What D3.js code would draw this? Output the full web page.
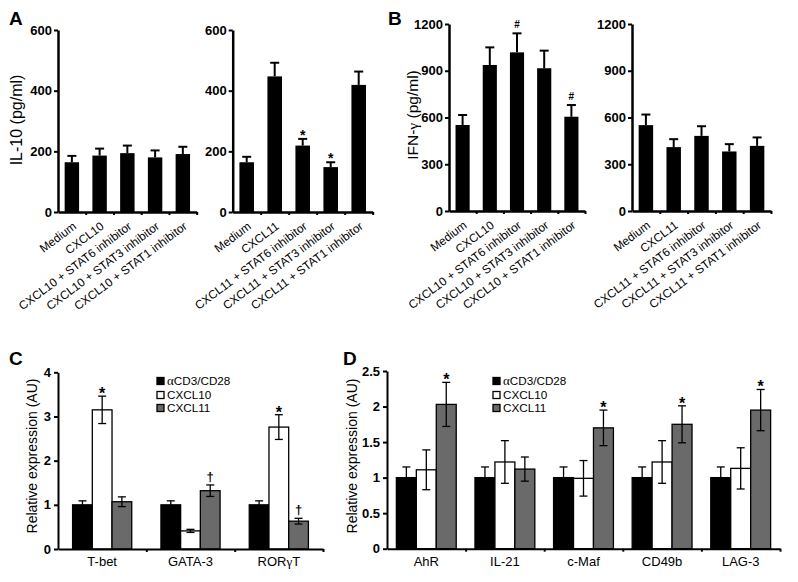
<!DOCTYPE html>
<html><head><meta charset="utf-8">
<script src="https://cdn.jsdelivr.net/npm/d3@7/dist/d3.min.js"></script>
<style>
body{margin:0;background:#fff;}
svg{font-family:Arial,"Liberation Sans",Helvetica,sans-serif;}
</style></head>
<body><svg id="chart" width="798" height="582"></svg>
<script>
// ---------- DATA ----------
const catsCxcl10 = ["Medium","CXCL10","CXCL10 + STAT6 inhibitor","CXCL10 + STAT3 inhibitor","CXCL10 + STAT1 inhibitor"];
const catsCxcl11 = ["Medium","CXCL11","CXCL11 + STAT6 inhibitor","CXCL11 + STAT3 inhibitor","CXCL11 + STAT1 inhibitor"];
const il10Cxcl10 = [164,186,194,180,191];
const il10Cxcl10Err = [21,23,25,23,24];
const il10Cxcl10Marks = ["","","","",""];
const il10Cxcl11 = [164,447,219,148,419];
const il10Cxcl11Err = [18,45,22,16,44];
const il10Cxcl11Marks = ["","","*","*",""];
const ifnCxcl10 = [552,937,1018,916,605];
const ifnCxcl10Err = [64,113,122,113,75];
const ifnCxcl10Marks = ["","","#","","#"];
const ifnCxcl11 = [551,410,482,382,418];
const ifnCxcl11Err = [68,51,62,47,54];
const ifnCxcl11Marks = ["","","","",""];
const il10Ticks = [0,200,400,600];
const ifnTicks = [0,300,600,900,1200];

const seriesNames = ["αCD3/CD28","CXCL10","CXCL11"];
const cGenes = ["T-bet","GATA-3","RORγT"];
const cAcd3 = [1.0,1.0,1.0];
const cAcd3Err = [0.09,0.09,0.09];
const cCxcl10 = [3.15,0.41,2.76];
const cCxcl10Err = [0.31,0.035,0.28];
const cCxcl10Marks = ["*","","*"];
const cCxcl11 = [1.07,1.32,0.63];
const cCxcl11Err = [0.11,0.13,0.065];
const cCxcl11Marks = ["","†","†"];
const cTicks = [0,1,2,3,4];

const dGenes = ["AhR","IL-21","c-Maf","CD49b","LAG-3"];
const dAcd3 = [1.0,1.0,1.0,1.0,1.0];
const dAcd3Err = [0.15,0.15,0.15,0.15,0.15];
const dCxcl10 = [1.11,1.22,0.99,1.22,1.13];
const dCxcl10Err = [0.28,0.30,0.25,0.30,0.29];
const dCxcl10Marks = ["","","","",""];
const dCxcl11 = [2.03,1.12,1.70,1.75,1.95];
const dCxcl11Err = [0.31,0.17,0.25,0.26,0.29];
const dCxcl11Marks = ["*","","*","*","*"];
const dTicks = [0,0.5,1,1.5,2,2.5];

// ---------- DRAW ----------
const svg = d3.select("#chart");
const GRAY = "#6a6a6a";
const SERIF = "'Liberation Serif','Times New Roman',serif";

function panelLetter(t,x,y){
  svg.append("text").attr("x",x).attr("y",y).attr("font-size",19).attr("font-weight","bold").text(t);
}

function yTitle(parts,x,y,size){
  const t = svg.append("text").attr("transform",`translate(${x},${y}) rotate(-90)`)
    .attr("text-anchor","middle").attr("font-size",size);
  parts.forEach(p=>{
    const s = t.append("tspan").text(p.t);
    if(p.serif) s.attr("font-family",SERIF);
  });
}

function simplePanel(cats, vals, errs, marks, ticks, maxV, x0, x1, yTop, yBot, markSize){
  const g = svg.append("g");
  const x = d3.scaleBand().domain(cats).range([x0,x1]).paddingInner(0.48).paddingOuter(0.24);
  const y = d3.scaleLinear().domain([0,maxV]).range([yBot,yTop]);
  const xl = d3.scaleLinear().domain([0,cats.length]).range([x0,x1]);
  g.selectAll("rect.bar").data(vals).join("rect").attr("class","bar")
    .attr("x",(d,i)=>x(cats[i])).attr("width",x.bandwidth())
    .attr("y",d=>y(d)).attr("height",d=>y(0)-y(d)).attr("fill","#000");
  vals.forEach((v,i)=>{
    const cx = x(cats[i])+x.bandwidth()/2;
    g.append("line").attr("x1",cx).attr("x2",cx).attr("y1",y(v)).attr("y2",y(v+errs[i]))
      .attr("stroke","#000").attr("stroke-width",2);
    g.append("line").attr("x1",cx-4.5).attr("x2",cx+4.5).attr("y1",y(v+errs[i])).attr("y2",y(v+errs[i]))
      .attr("stroke","#000").attr("stroke-width",2);
    if(marks[i]){
      g.append("text").attr("x",cx).attr("y",y(v+errs[i]) - (marks[i]==="#"?5:-1))
        .attr("text-anchor","middle").attr("font-weight","bold")
        .attr("font-size",marks[i]==="#"?10:markSize).text(marks[i]);
    }
  });
  const ya = g.append("g").attr("transform",`translate(${x0},0)`)
    .call(d3.axisLeft(y).tickValues(ticks).tickSize(4).tickPadding(2).tickSizeOuter(0).tickFormat(d3.format("d")));
  ya.select(".domain").attr("stroke-width",2.5);
  ya.selectAll(".tick line").attr("stroke-width",2);
  ya.selectAll(".tick text").attr("font-size",13).attr("font-weight","bold").attr("font-family","Arial,'Liberation Sans',sans-serif").attr("fill","#000");
  const xa = g.append("g").attr("transform",`translate(0,${yBot})`)
    .call(d3.axisBottom(xl).tickValues(d3.range(1,cats.length+1)).tickSize(3).tickFormat("").tickSizeOuter(0));
  xa.select(".domain").attr("stroke-width",2.5);
  xa.selectAll(".tick line").attr("stroke-width",2);
  cats.forEach(c=>{
    const cx = x(c)+x.bandwidth()/2;
    g.append("text").attr("transform",`translate(${cx},${yBot+9}) rotate(-37)`)
      .attr("text-anchor","end").attr("dy","0.72em").attr("font-size",11.8).text(c);
  });
}

simplePanel(catsCxcl10, il10Cxcl10, il10Cxcl10Err, il10Cxcl10Marks, il10Ticks, 600, 58, 196.7, 30, 212, 14);
simplePanel(catsCxcl11, il10Cxcl11, il10Cxcl11Err, il10Cxcl11Marks, il10Ticks, 600, 232.7, 372.7, 30, 212, 14);
simplePanel(catsCxcl10, ifnCxcl10, ifnCxcl10Err, ifnCxcl10Marks, ifnTicks, 1200, 449, 585, 24, 211, 14);
simplePanel(catsCxcl11, ifnCxcl11, ifnCxcl11Err, ifnCxcl11Marks, ifnTicks, 1200, 632, 771, 24, 211, 14);

panelLetter("A",9,25);
panelLetter("B",388,25);
panelLetter("C",9,365);
panelLetter("D",343,365);
yTitle([{t:"IL-10 (pg/ml)"}],22,120,16);
yTitle([{t:"IFN-"},{t:"γ",serif:true},{t:" (pg/ml)"}],418,115,15.5);

function groupedPanel(genes, seriesVals, seriesErrs, seriesMarks, ticks, maxV, x0, x1, yTop, yBot, pad, legendX, fmt){
  const g = svg.append("g");
  const fills = ["#000","#fff",GRAY];
  const x = d3.scaleBand().domain(genes).range([x0,x1]).padding(0);
  const xi = d3.scaleBand().domain(seriesNames).range([0,x.bandwidth()]).paddingInner(0).paddingOuter(pad);
  const y = d3.scaleLinear().domain([0,maxV]).range([yBot,yTop]);
  const xl = d3.scaleLinear().domain([0,genes.length]).range([x0,x1]);
  seriesNames.forEach((s,si)=>{
    genes.forEach((gn,gi)=>{
      const v = seriesVals[si][gi];
      const bx = x(gn)+xi(s);
      g.append("rect").attr("x",bx).attr("width",xi.bandwidth()).attr("y",y(v)).attr("height",y(0)-y(v))
        .attr("fill",fills[si]).attr("stroke","#000").attr("stroke-width",1.3);
    });
  });
  seriesNames.forEach((s,si)=>{
    genes.forEach((gn,gi)=>{
      const v = seriesVals[si][gi], e = seriesErrs[si][gi];
      const cx = x(gn)+xi(s)+xi.bandwidth()/2;
      g.append("line").attr("x1",cx).attr("x2",cx).attr("y1",y(v-e)).attr("y2",y(v+e)).attr("stroke","#000").attr("stroke-width",1.3);
      [v-e,v+e].forEach(w=>g.append("line").attr("x1",cx-4).attr("x2",cx+4).attr("y1",y(w)).attr("y2",y(w)).attr("stroke","#000").attr("stroke-width",1.3));
      const m = seriesMarks[si][gi];
      if(m){
        g.append("text").attr("x",cx).attr("y",y(v+e)+ (m==="*"?3:-4)).attr("text-anchor","middle")
          .attr("font-weight","bold").attr("font-size",m==="*"?16:13).text(m);
      }
    });
  });
  const ya = g.append("g").attr("transform",`translate(${x0},0)`)
    .call(d3.axisLeft(y).tickValues(ticks).tickSize(4).tickPadding(3).tickSizeOuter(0).tickFormat(fmt));
  ya.select(".domain").attr("stroke-width",2);
  ya.selectAll(".tick line").attr("stroke-width",2);
  ya.selectAll(".tick text").attr("font-size",13).attr("font-weight","bold").attr("fill","#000").attr("font-family","Arial,'Liberation Sans',sans-serif");
  const xa = g.append("g").attr("transform",`translate(0,${yBot})`)
    .call(d3.axisBottom(xl).tickValues(d3.range(1,genes.length+1)).tickSize(3).tickFormat("").tickSizeOuter(0));
  xa.select(".domain").attr("stroke-width",2);
  xa.selectAll(".tick line").attr("stroke-width",2);
  genes.forEach(gn=>{
    const t = g.append("text").attr("x",x(gn)+x.bandwidth()/2).attr("y",yBot+17).attr("text-anchor","middle").attr("font-size",13);
    if(gn.includes("γ")){
      const [a,b] = gn.split("γ");
      t.append("tspan").text(a);
      t.append("tspan").attr("font-family",SERIF).text("γ");
      t.append("tspan").text(b);
    } else t.text(gn);
  });
  const rows = [381,395,408];
  seriesNames.forEach((s,si)=>{
    g.append("rect").attr("x",legendX).attr("y",rows[si]-3.5).attr("width",7).attr("height",7)
      .attr("fill",fills[si]).attr("stroke","#000").attr("stroke-width",1.3);
    const t = g.append("text").attr("x",legendX+10).attr("y",rows[si]+4.2).attr("font-size",11.7);
    if(s.startsWith("α")){
      t.append("tspan").attr("font-family",SERIF).attr("font-size",13).text("α");
      t.append("tspan").text(s.slice(1));
    } else t.text(s);
  });
}

groupedPanel(cGenes, [cAcd3,cCxcl10,cCxcl11], [cAcd3Err,cCxcl10Err,cCxcl11Err], [["","",""],cCxcl10Marks,cCxcl11Marks],
  cTicks, 4, 58, 323, 372.3, 549, 0.74, 157, d3.format("d"));
groupedPanel(dGenes, [dAcd3,dCxcl10,dCxcl11], [dAcd3Err,dCxcl10Err,dCxcl11Err], [["","","","",""],dCxcl10Marks,dCxcl11Marks],
  dTicks, 2.5, 387, 780, 371, 548.7, 0.47, 493, d=>String(d));

yTitle([{t:"Relative expression (AU)"}],37,456,14);
yTitle([{t:"Relative expression (AU)"}],357,456,14);
</script></body></html>
